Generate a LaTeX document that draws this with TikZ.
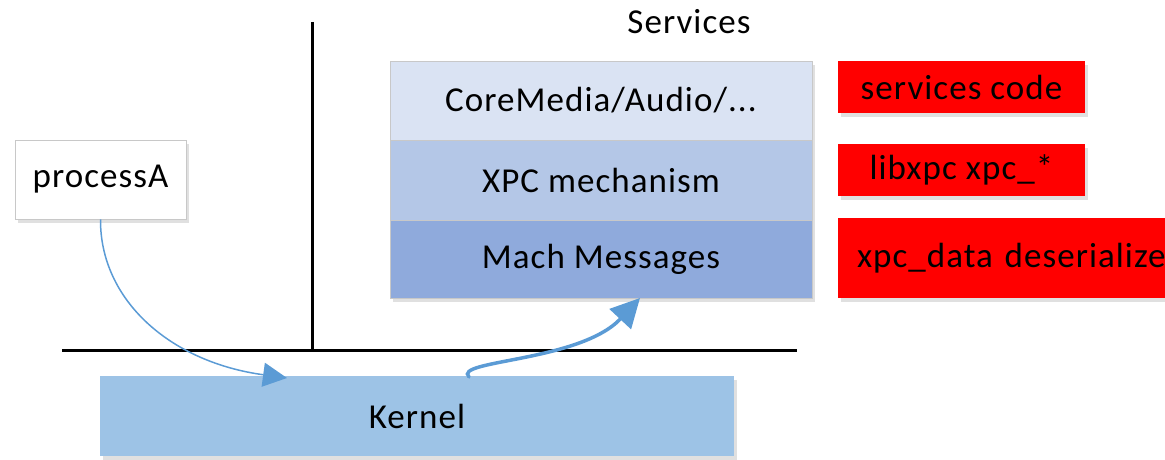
\documentclass[tikz,border=0pt]{standalone}
\usepackage{fontspec}
\setmainfont{Carlito}[LetterSpace=3]
\usetikzlibrary{arrows.meta,shadows}
\definecolor{layerA}{HTML}{DAE3F3}
\definecolor{layerB}{HTML}{B4C7E7}
\definecolor{layerC}{HTML}{8FAADC}
\definecolor{kernelblue}{HTML}{9DC3E6}
\definecolor{flowblue}{HTML}{5B9BD5}
\definecolor{edgegray}{HTML}{C8C8C8}
\begin{document}
\begin{tikzpicture}[x=1pt,y=-1pt,
  every node/.style={font=\fontsize{35}{40}\selectfont, inner sep=0pt},
  softshadow/.style={drop shadow={shadow xshift=3pt,shadow yshift=-4pt,fill=black,opacity=0.12}},
  layer/.style={draw=edgegray, line width=0.8pt, minimum width=422pt, softshadow},
  redbox/.style={fill=red, minimum height=52pt, softshadow},
  baseline/.style={line width=3pt, black},
  flowtip/.style={flowblue, -{Triangle[length=#1,width=#1]}}
]
\useasboundingbox (0,0) rectangle (1165,460);

% boundary between user space and kernel
\draw[baseline] (62,350) -- (797,350);
\draw[baseline] (312,22) -- (312,350);

% service stack
\node[layer, fill=layerA, minimum height=79pt] (core) at (601,100.5) {CoreMedia/Audio/...};
\node[layer, fill=layerB, minimum height=80pt] (xpc) at (601,180) {XPC mechanism};
\node[layer, fill=layerC, minimum height=78pt] (mach) at (601,259) {Mach Messages};
\node (services) at (689,22) {Services};

% annotations
\node[redbox, minimum width=247pt] (svccode) at (961.5,87) {services code};
\node[redbox, minimum width=247pt] (libxpc) at (961.5,170) {libxpc xpc\_*};
\node[redbox, minimum width=347pt, minimum height=80pt, text width=347pt, align=left] (deser) at (1011.5,258) {\hspace*{19pt}xpc\_data deserialize};

% client process and kernel
\node[draw=edgegray, fill=white, line width=0.8pt, minimum width=171pt, minimum height=79pt, softshadow] (procA) at (100.5,179.5) {processA};
\node[fill=kernelblue, minimum width=634pt, minimum height=80pt, softshadow] (kernel) at (417,416) {Kernel};

% message path
\coordinate (inK) at (287,378);
\coordinate (outK) at (469,377);
\coordinate (toMach) at (640,298);
\draw[flowtip=24pt, line width=1.5pt] (procA.south) .. controls (100,300) and (170,362) .. (inK);
\draw[flowtip=29pt, line width=3.5pt, line cap=round] (outK) .. controls (452,360) and (580,362) .. (toMach);
\end{tikzpicture}
\end{document}
